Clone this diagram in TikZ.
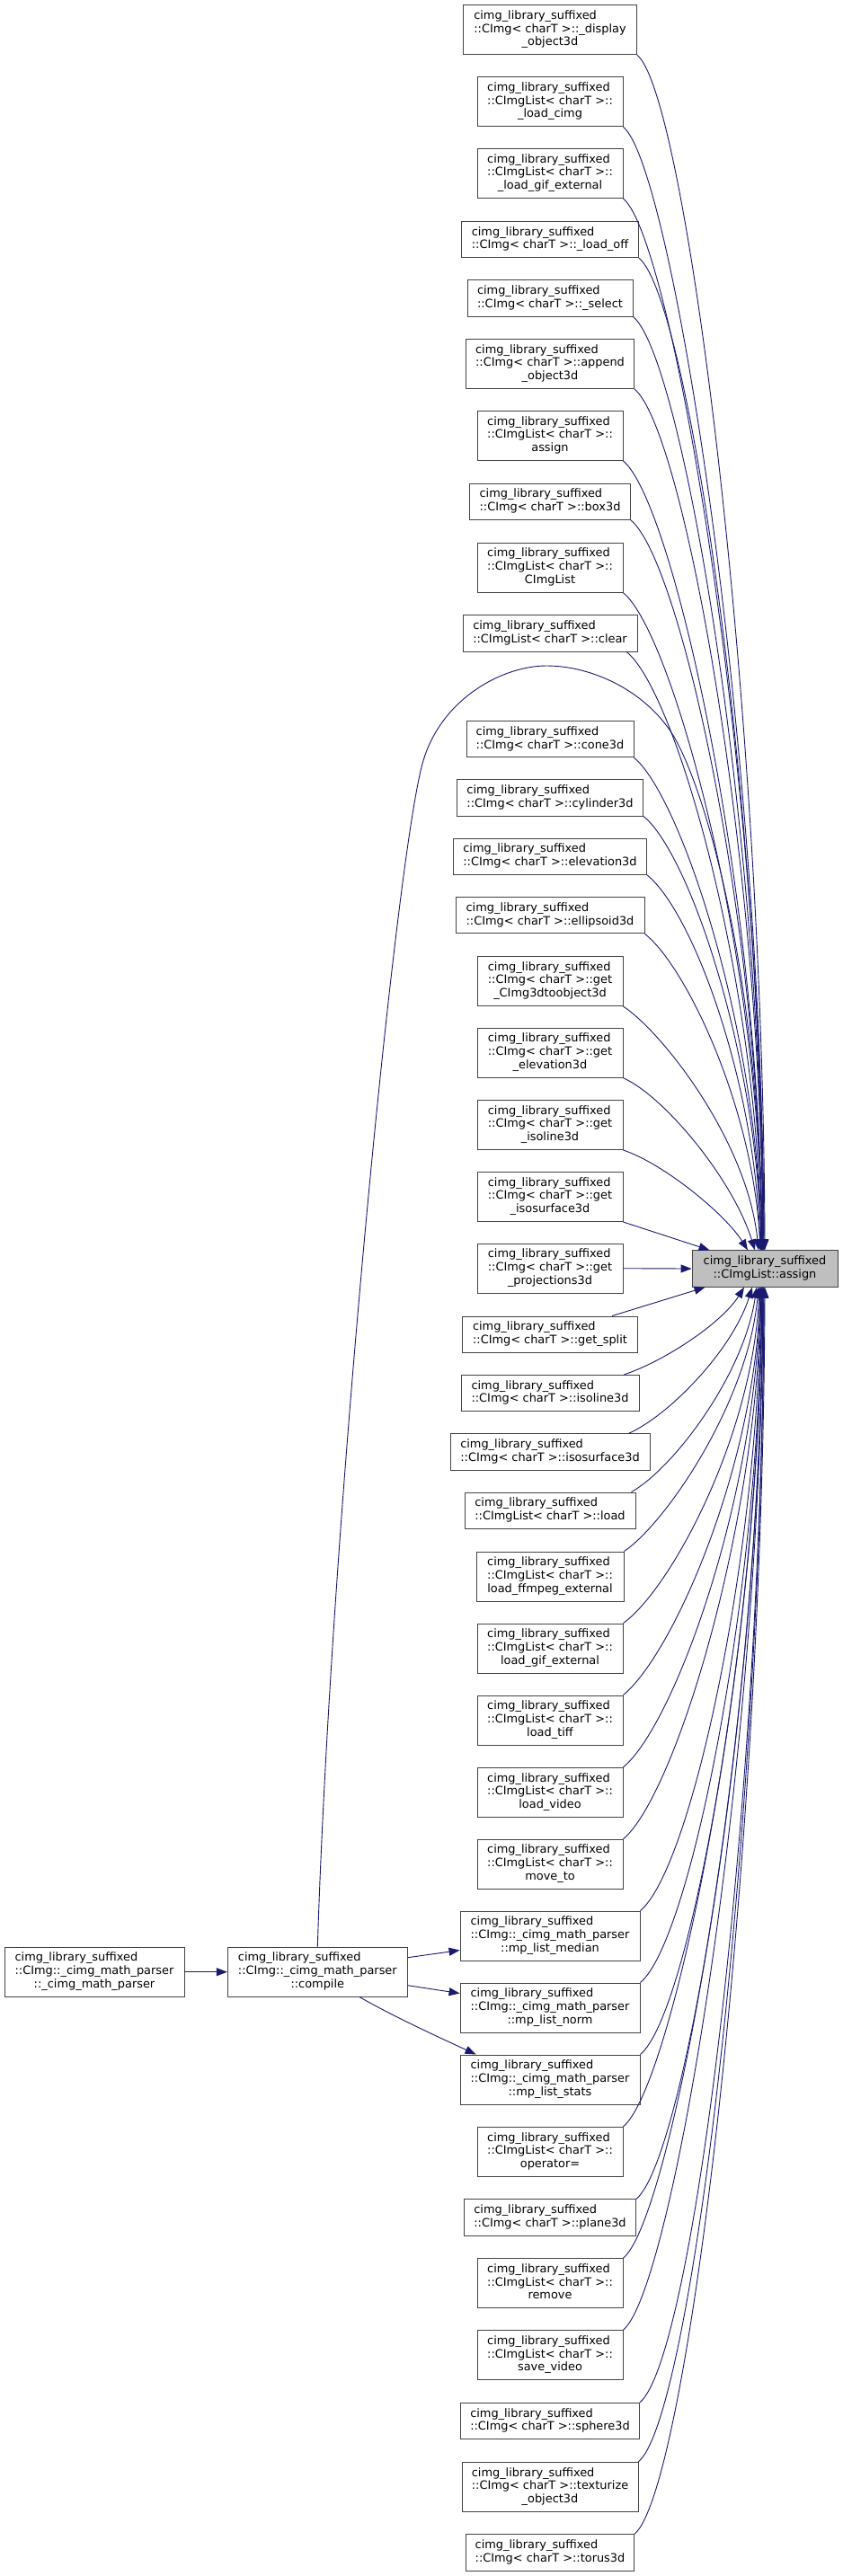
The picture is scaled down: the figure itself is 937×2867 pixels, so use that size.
\documentclass[tikz,border=0pt]{standalone}
\usepackage{fontspec}
\setmainfont{DejaVu Sans}
\usepackage{xcolor}
\usepackage{tikz}
\usetikzlibrary{
  arrows.meta
}
\definecolor{edgeblue}{HTML}{191970}
\definecolor{boxline}{HTML}{444444}
\definecolor{rootfill}{HTML}{BFBFBF}
\newcommand{\cns}{cimg\_library\_suffixed}
\newcommand{\lbltwo}[2]{\begin{tabular}{@{}l@{}}#1\\\multicolumn{1}{@{}c@{}}{#2}\end{tabular}}
\newcommand{\lblthree}[3]{\begin{tabular}{@{}l@{}}#1\\#2\\\multicolumn{1}{@{}c@{}}{#3}\end{tabular}}
\tikzset{
  every node/.style={font=\fontsize{12.9}{14.7}\selectfont, text=black},
  fnbox/.style={
    draw=boxline,
    fill=white,
    line width=0.9pt,
    inner xsep=0pt,
    inner ysep=5.5pt,
    minimum height=40pt
  },
  rootbox/.style={fnbox, fill=rootfill},
  callarr/.style={-{Triangle[length=12pt,width=9pt]}, line width=0.9pt, draw=edgeblue},
}

\begin{document}
\begin{tikzpicture}[x=1pt, y=-1pt]
  \useasboundingbox (0,0) rectangle (937,2867);

  % =====================================================================
  % CALLEE
  % =====================================================================
  \node[rootbox, minimum width=162pt] (assign) at (851, 1412)
    {\lbltwo{\cns}{::CImgList::assign}};

  % =====================================================================
  % CALLERS (right column)
  % =====================================================================
  \node[fnbox, minimum width=193pt] (disp) at (612, 33.2)
    {\lblthree{\cns}{::CImg< charT >::\_display}{\_object3d}};
  \node[fnbox, minimum width=162pt] (ldcimg) at (612, 113.2)
    {\lblthree{\cns}{::CImgList< charT >::}{\_load\_cimg}};
  \node[fnbox, minimum width=162pt] (ldgifx) at (612, 193)
    {\lblthree{\cns}{::CImgList< charT >::}{\_load\_gif\_external}};
  \node[fnbox, minimum width=197pt] (ldoff) at (612, 266.5)
    {\lbltwo{\cns}{::CImg< charT >::\_load\_off}};
  \node[fnbox, minimum width=184pt] (sel) at (612, 331.8)
    {\lbltwo{\cns}{::CImg< charT >::\_select}};
  \node[fnbox, minimum width=187pt] (app) at (612, 405)
    {\lblthree{\cns}{::CImg< charT >::append}{\_object3d}};
  \node[fnbox, minimum width=162pt] (asg) at (612, 485)
    {\lblthree{\cns}{::CImgList< charT >::}{assign}};
  \node[fnbox, minimum width=179pt] (box) at (612, 558.3)
    {\lbltwo{\cns}{::CImg< charT >::box3d}};
  \node[fnbox, minimum width=162pt] (ctor) at (612, 631.7)
    {\lblthree{\cns}{::CImgList< charT >::}{CImgList}};
  \node[fnbox, minimum width=194pt] (clr) at (612, 705)
    {\lbltwo{\cns}{::CImgList< charT >::clear}};
  \node[fnbox, minimum width=186pt] (cone) at (612, 822.7)
    {\lbltwo{\cns}{::CImg< charT >::cone3d}};
  \node[fnbox, minimum width=207pt] (cyl) at (612, 887.8)
    {\lbltwo{\cns}{::CImg< charT >::cylinder3d}};
  \node[fnbox, minimum width=215pt] (elev) at (612, 953.2)
    {\lbltwo{\cns}{::CImg< charT >::elevation3d}};
  \node[fnbox, minimum width=210pt] (ellip) at (612, 1018.7)
    {\lbltwo{\cns}{::CImg< charT >::ellipsoid3d}};
  \node[fnbox, minimum width=162pt] (gcimg) at (612, 1092)
    {\lblthree{\cns}{::CImg< charT >::get}{\_CImg3dtoobject3d}};
  \node[fnbox, minimum width=162pt] (gelev) at (612, 1171.7)
    {\lblthree{\cns}{::CImg< charT >::get}{\_elevation3d}};
  \node[fnbox, minimum width=162pt] (giso) at (612, 1252)
    {\lblthree{\cns}{::CImg< charT >::get}{\_isoline3d}};
  \node[fnbox, minimum width=162pt] (gisos) at (612, 1332)
    {\lblthree{\cns}{::CImg< charT >::get}{\_isosurface3d}};
  \node[fnbox, minimum width=162pt] (gproj) at (612, 1411.7)
    {\lblthree{\cns}{::CImg< charT >::get}{\_projections3d}};
  \node[fnbox, minimum width=195pt] (gsplit) at (612, 1485.2)
    {\lbltwo{\cns}{::CImg< charT >::get\_split}};
  \node[fnbox, minimum width=198pt] (iso) at (612, 1550.5)
    {\lbltwo{\cns}{::CImg< charT >::isoline3d}};
  \node[fnbox, minimum width=222pt] (isos) at (612, 1616)
    {\lbltwo{\cns}{::CImg< charT >::isosurface3d}};
  \node[fnbox, minimum width=190pt] (ld) at (612, 1681.2)
    {\lbltwo{\cns}{::CImgList< charT >::load}};
  \node[fnbox, minimum width=164pt] (ldff) at (612, 1754.5)
    {\lblthree{\cns}{::CImgList< charT >::}{load\_ffmpeg\_external}};
  \node[fnbox, minimum width=162pt] (ldgif) at (612, 1834.5)
    {\lblthree{\cns}{::CImgList< charT >::}{load\_gif\_external}};
  \node[fnbox, minimum width=162pt] (ldtiff) at (612, 1914.5)
    {\lblthree{\cns}{::CImgList< charT >::}{load\_tiff}};
  \node[fnbox, minimum width=162pt] (ldvid) at (612, 1994.8)
    {\lblthree{\cns}{::CImgList< charT >::}{load\_video}};
  \node[fnbox, minimum width=162pt] (mvto) at (612, 2074.7)
    {\lblthree{\cns}{::CImgList< charT >::}{move\_to}};
  \node[fnbox, minimum width=200pt] (median) at (612, 2154.5)
    {\lblthree{\cns}{::CImg::\_cimg\_math\_parser}{::mp\_list\_median}};
  \node[fnbox, minimum width=200pt] (norm) at (612, 2234.5)
    {\lblthree{\cns}{::CImg::\_cimg\_math\_parser}{::mp\_list\_norm}};
  \node[fnbox, minimum width=200pt] (stats) at (612, 2314.5)
    {\lblthree{\cns}{::CImg::\_cimg\_math\_parser}{::mp\_list\_stats}};
  \node[fnbox, minimum width=162pt] (opeq) at (612, 2394.8)
    {\lblthree{\cns}{::CImgList< charT >::}{operator=}};
  \node[fnbox, minimum width=191pt] (plane) at (612, 2468)
    {\lbltwo{\cns}{::CImg< charT >::plane3d}};
  \node[fnbox, minimum width=162pt] (rem) at (612, 2541.2)
    {\lblthree{\cns}{::CImgList< charT >::}{remove}};
  \node[fnbox, minimum width=162pt] (savvid) at (612, 2621.2)
    {\lblthree{\cns}{::CImgList< charT >::}{save\_video}};
  \node[fnbox, minimum width=199pt] (sphere) at (612, 2694.5)
    {\lbltwo{\cns}{::CImg< charT >::sphere3d}};
  \node[fnbox, minimum width=196pt] (textu) at (612, 2767.8)
    {\lblthree{\cns}{::CImg< charT >::texturize}{\_object3d}};
  \node[fnbox, minimum width=187pt] (torus) at (612, 2841)
    {\lbltwo{\cns}{::CImg< charT >::torus3d}};

  % =====================================================================
  % MATH PARSER CHAIN (left)
  % =====================================================================
  \node[fnbox, minimum width=200pt] (parser) at (105, 2194.7)
    {\lblthree{\cns}{::CImg::\_cimg\_math\_parser}{::\_cimg\_math\_parser}};
  \node[fnbox, minimum width=200pt] (compile) at (353.3, 2194.7)
    {\lblthree{\cns}{::CImg::\_cimg\_math\_parser}{::compile}};

  \draw[callarr] (parser.east) -- (compile.west);
  \draw[callarr] ([yshift=16pt]compile.east) -- ([yshift=-16pt]median.west);
  \draw[callarr] ([yshift=-15pt]compile.east) -- ([yshift=16pt]norm.west);
  \draw[callarr] ([xshift=47pt]compile.south)
    .. controls +(40,23) and +(-30,-14) .. ([xshift=18pt]stats.north west);

  % long loop from compile over the column into the callee
  \coordinate (loopL) at (470, 850);
  \coordinate (loopT) at (608, 741);
  \coordinate (loopR) at (750, 820);
  \draw[callarr] (compile.north)
      .. controls (368, 1700) and (440, 960) .. (loopL)
      .. controls (490, 777) and (560, 741) .. (loopT)
      .. controls (660, 741) and (720, 770) .. (loopR)
      .. controls (790, 890) and (845, 1100) .. ([xshift=-3pt]assign.north);

  % =====================================================================
  % CALL EDGES from above
  % =====================================================================
  \draw[callarr] (disp.south east) .. controls +(55,45) and +(-2,-600) .. (assign.north);
  \draw[callarr] (ldcimg.south east) .. controls +(55,45) and +(-2,-560) .. ([xshift=-1pt]assign.north);
  \draw[callarr] (ldgifx.south east) .. controls +(55,45) and +(-2,-530) .. ([xshift=-1pt]assign.north);
  \draw[callarr] (ldoff.south east) .. controls +(55,45) and +(-2,-500) .. ([xshift=-2pt]assign.north);
  \draw[callarr] (sel.south east) .. controls +(55,45) and +(-2,-470) .. ([xshift=-2pt]assign.north);
  \draw[callarr] (app.south east) .. controls +(55,45) and +(-2,-430) .. ([xshift=-2pt]assign.north);
  \draw[callarr] (asg.south east) .. controls +(55,45) and +(-3,-400) .. ([xshift=-3pt]assign.north);
  \draw[callarr] (box.south east) .. controls +(55,45) and +(-3,-365) .. ([xshift=-3pt]assign.north);
  \draw[callarr] (ctor.south east) .. controls +(55,45) and +(-3,-330) .. ([xshift=-3pt]assign.north);
  \draw[callarr] ([xshift=-12pt]clr.south east) .. controls +(55,45) and +(-4,-300) .. ([xshift=-4pt]assign.north);
  \draw[callarr] (cone.south east) .. controls +(50,40) and +(-4,-250) .. ([xshift=-4pt]assign.north);
  \draw[callarr] (cyl.south east) .. controls +(50,40) and +(-5,-220) .. ([xshift=-4pt]assign.north);
  \draw[callarr] (elev.south east) .. controls +(50,40) and +(-6,-190) .. ([xshift=-5pt]assign.north);
  \draw[callarr] (ellip.south east) .. controls +(45,35) and +(-8,-160) .. ([xshift=-5pt]assign.north);
  \draw[callarr] (gcimg.south east) .. controls +(45,30) and +(-12,-120) .. ([xshift=-7pt]assign.north);
  \draw[callarr] (gelev.south east) .. controls +(45,20) and +(-25,-80) .. ([xshift=-11pt]assign.north);
  \draw[callarr] (giso.south east) .. controls +(45,15) and +(-25,-40) .. ([xshift=-19pt]assign.north);
  \draw[callarr] (gisos.south east) -- ([xshift=20pt]assign.north west);

  % straight in from the side
  \draw[callarr] (gproj.east) -- (assign.west);
  \draw[callarr] ([xshift=-29pt]gsplit.north east) -- ([xshift=15pt]assign.south west);

  % =====================================================================
  % CALL EDGES from below
  % =====================================================================
  \draw[callarr] ([xshift=-17pt]iso.north east) .. controls +(45,-15) and +(-25,40) .. ([xshift=-23pt]assign.south);
  \draw[callarr] ([xshift=-24pt]isos.north east) .. controls +(45,-20) and +(-22,70) .. ([xshift=-14pt]assign.south);
  \draw[callarr] ([xshift=-5pt]ld.north east) .. controls +(45,-25) and +(-15,100) .. ([xshift=-9pt]assign.south);
  \draw[callarr] (ldff.north east) .. controls +(45,-30) and +(-12,130) .. ([xshift=-7pt]assign.south);
  \draw[callarr] (ldgif.north east) .. controls +(50,-35) and +(-8,170) .. ([xshift=-6pt]assign.south);
  \draw[callarr] (ldtiff.north east) .. controls +(55,-45) and +(-6,200) .. ([xshift=-5pt]assign.south);
  \draw[callarr] (ldvid.north east) .. controls +(55,-45) and +(-5,240) .. ([xshift=-5pt]assign.south);
  \draw[callarr] (mvto.north east) .. controls +(55,-45) and +(-5,275) .. ([xshift=-4pt]assign.south);
  \draw[callarr] (median.north east) .. controls +(55,-45) and +(-4,310) .. ([xshift=-4pt]assign.south);
  \draw[callarr] (norm.north east) .. controls +(55,-45) and +(-4,350) .. ([xshift=-3pt]assign.south);
  \draw[callarr] (stats.north east) .. controls +(55,-45) and +(-4,385) .. ([xshift=-3pt]assign.south);
  \draw[callarr] (opeq.north east) .. controls +(55,-45) and +(-3,420) .. ([xshift=-3pt]assign.south);
  \draw[callarr] (plane.north east) .. controls +(55,-45) and +(-3,455) .. ([xshift=-2pt]assign.south);
  \draw[callarr] (rem.north east) .. controls +(55,-45) and +(-2,485) .. ([xshift=-2pt]assign.south);
  \draw[callarr] (savvid.north east) .. controls +(55,-45) and +(-2,520) .. ([xshift=-2pt]assign.south);
  \draw[callarr] (sphere.north east) .. controls +(60,-50) and +(-2,560) .. ([xshift=-1pt]assign.south);
  \draw[callarr] (textu.north east) .. controls +(60,-50) and +(-2,590) .. ([xshift=-1pt]assign.south);
  \draw[callarr] (torus.north east) .. controls +(60,-50) and +(-2,625) .. (assign.south);

\end{tikzpicture}
\end{document}
